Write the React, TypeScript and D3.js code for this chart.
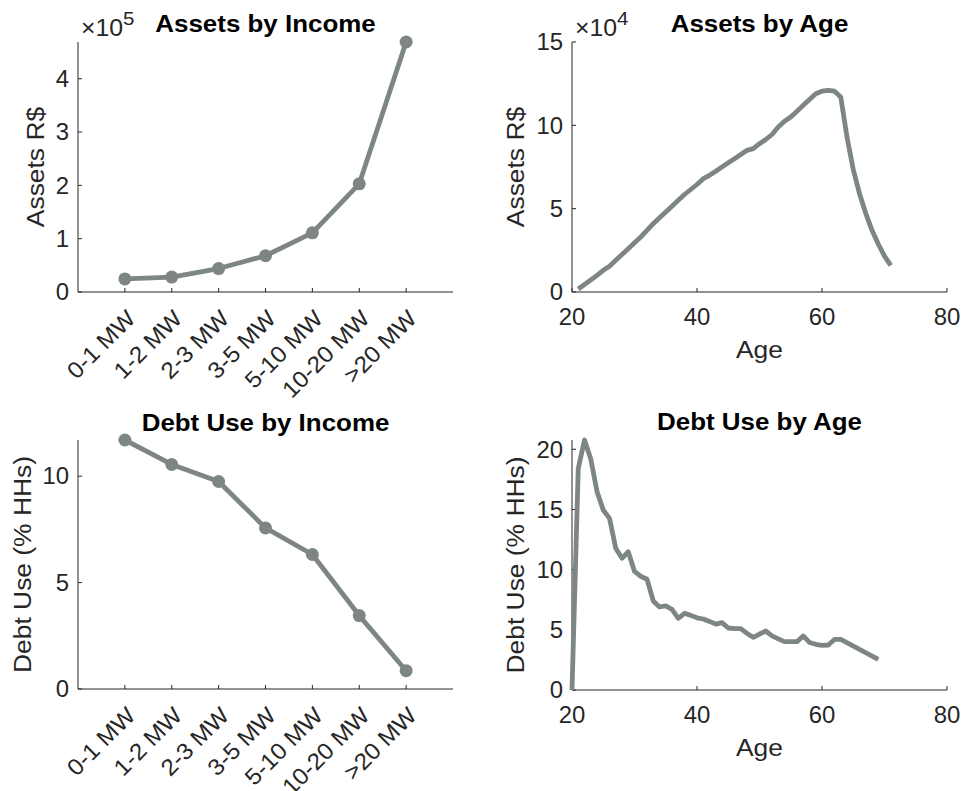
import { useEffect, useRef } from "react";
import * as d3 from "d3";

// income brackets (multiples of minimum wage)
const incomeGroups = ["0-1 MW", "1-2 MW", "2-3 MW", "3-5 MW", "5-10 MW", "10-20 MW", ">20 MW"];
const incomePos = [1, 2, 3, 4, 5, 6, 7];
const assetsByIncome = [24500, 28000, 44000, 68000, 111000, 203000, 469000];
const debtByIncome = [11.7, 10.55, 9.75, 7.57, 6.32, 3.45, 0.86];

const assetAges = [
  21, 22, 23, 24, 25, 26, 27, 28, 29, 30, 31, 32, 33, 34, 35, 36, 37, 38, 39, 40,
  41, 42, 43, 44, 45, 46, 47, 48, 49, 50, 51, 52, 53, 54, 55, 56, 57, 58, 59, 60,
  61, 62, 63, 64, 65, 66, 67, 68, 69, 70, 71,
];
const assetsByAge = [
  1800, 4500, 7200, 10000, 13000, 15500, 19000, 22500, 26000, 29500, 33000, 37000, 41000, 44500, 48000, 51500, 55000, 58500, 61500, 64500,
  68000, 70000, 72500, 75000, 77500, 80000, 82500, 85000, 86000, 89000, 91500, 94500, 99000, 102500, 105000, 108500, 112000, 115500, 119000, 120500,
  121000, 120500, 117000, 93000, 73500, 59000, 47200, 37000, 28800, 21500, 16000,
];

const debtAges = [
  20, 21, 22, 23, 24, 25, 26, 27, 28, 29, 30, 31, 32, 33, 34, 35, 36, 37, 38, 39,
  40, 41, 42, 43, 44, 45, 46, 47, 48, 49, 50, 51, 52, 53, 54, 55, 56, 57, 58, 59,
  60, 61, 62, 63, 69,
];
const debtByAge = [
  0, 18.4, 20.77, 19.2, 16.5, 14.95, 14.26, 11.77, 10.94, 11.49, 9.85, 9.45, 9.2, 7.4, 6.9, 6.98, 6.7, 5.96, 6.37, 6.2,
  6.0, 5.9, 5.7, 5.48, 5.6, 5.15, 5.1, 5.1, 4.7, 4.38, 4.65, 4.9, 4.5, 4.25, 4.02, 4.02, 4.02, 4.49, 3.95, 3.8,
  3.71, 3.74, 4.2, 4.2, 2.55,
];

const ageTicks = [20, 40, 60, 80];

const FONT = "'Liberation Sans', Arial, Helvetica, sans-serif";
const INK = "#262626";
const LINE = "#7e8683";

interface PanelProps {
  left: number;
  top: number;
  width: number;
  height: number;
  title: string;
  titleY: number;
  yLabel: string;
  yLabelGap: number;
  xLabel?: string;
  xs: number[];
  ys: number[];
  xDomain: [number, number];
  xTicks: number[];
  xTickLabels?: string[];
  yDomain: [number, number];
  yTicks: number[];
  yScaleDiv?: number;
  exponent?: string;
  markers?: boolean;
}

function Panel(p: PanelProps) {
  const ref = useRef<SVGGElement | null>(null);

  useEffect(() => {
    const el = ref.current;
    if (!el) return;
    const g = d3.select(el);
    g.selectAll("*").remove();
    g.attr("transform", `translate(${p.left},${p.top})`).style("font-family", FONT);

    const x = d3.scaleLinear().domain(p.xDomain).range([0, p.width]);
    const y = d3.scaleLinear().domain(p.yDomain).range([p.height, 0]);
    const h = p.height;

    // glyphs in the reference run a bit wider than Arial, so stretch horizontally
    const txt = (tx: number, ty: number, sx: number, rot = 0) =>
      g.append("text")
        .attr("transform", `translate(${tx},${ty})${rot ? ` rotate(${rot})` : ""} scale(${sx},1)`);

    // axis lines (box off)
    g.append("path")
      .attr("d", `M0,0V${h}H${p.width}`)
      .attr("fill", "none")
      .attr("stroke", INK)
      .attr("stroke-width", 1);

    // y ticks
    const div = p.yScaleDiv ?? 1;
    p.yTicks.forEach((t) => {
      g.append("line")
        .attr("x1", 0).attr("x2", 4)
        .attr("y1", y(t)).attr("y2", y(t))
        .attr("stroke", INK);
      txt(-9, y(t), 1.04)
        .attr("text-anchor", "end")
        .attr("dy", "0.36em")
        .attr("fill", INK)
        .style("font-size", "23px")
        .text(d3.format("~g")(t / div));
    });

    // x ticks
    p.xTicks.forEach((t, i) => {
      g.append("line")
        .attr("x1", x(t)).attr("x2", x(t))
        .attr("y1", h).attr("y2", h - 4)
        .attr("stroke", INK);
      if (p.xTickLabels) {
        txt(x(t) + 6, h + 22, 1.06, -45)
          .attr("text-anchor", "end")
          .attr("dy", "0.36em")
          .attr("fill", INK)
          .style("font-size", "23px")
          .text(p.xTickLabels[i]);
      } else {
        txt(x(t), h + 33, 1.04)
          .attr("text-anchor", "middle")
          .attr("fill", INK)
          .style("font-size", "23px")
          .text(String(t));
      }
    });

    // data line
    const pts = p.xs.map((v, i) => [v, p.ys[i]] as [number, number]);
    const line = d3.line<[number, number]>().x((d) => x(d[0])).y((d) => y(d[1]));
    g.append("path")
      .attr("d", line(pts) ?? "")
      .attr("fill", "none")
      .attr("stroke", LINE)
      .attr("stroke-width", 4.8)
      .attr("stroke-linejoin", "round");

    if (p.markers) {
      g.append("g")
        .selectAll("circle")
        .data(pts)
        .join("circle")
        .attr("cx", (d) => x(d[0]))
        .attr("cy", (d) => y(d[1]))
        .attr("r", 6.5)
        .attr("fill", LINE);
    }

    // title
    txt(p.width / 2, p.titleY - p.top, 1.08)
      .attr("text-anchor", "middle")
      .attr("fill", "#000")
      .style("font-size", "24px")
      .style("font-weight", "bold")
      .text(p.title);

    // y label
    txt(-p.yLabelGap, h / 2, 1.1, -90)
      .attr("text-anchor", "middle")
      .attr("fill", INK)
      .style("font-size", "24px")
      .text(p.yLabel);

    if (p.xLabel) {
      txt(p.width / 2, h + 66, 1.1)
        .attr("text-anchor", "middle")
        .attr("fill", INK)
        .style("font-size", "24px")
        .text(p.xLabel);
    }

    if (p.exponent) {
      const e = txt(3, -6, 1.08).attr("fill", INK).style("font-size", "23px");
      e.append("tspan").text("\u00d710");
      e.append("tspan").attr("dy", -11).style("font-size", "19px").text(p.exponent);
    }
  }, [p]);

  return <g ref={ref} />;
}

export default function App() {
  return (
    <svg width={962} height={791} style={{ position: "absolute", left: 0, top: 0, background: "#fff" }}>
      <Panel
        left={78} top={42} width={375} height={250}
        title="Assets by Income" titleY={32}
        yLabel="Assets R$" yLabelGap={34}
        xs={incomePos} ys={assetsByIncome}
        xDomain={[0, 8]} xTicks={incomePos} xTickLabels={incomeGroups}
        yDomain={[0, d3.max(assetsByIncome) ?? 1]} yTicks={[0, 100000, 200000, 300000, 400000]}
        yScaleDiv={100000} exponent="5" markers
      />
      <Panel
        left={572} top={42} width={375} height={250}
        title="Assets by Age" titleY={32}
        yLabel="Assets R$" yLabelGap={48} xLabel="Age"
        xs={assetAges} ys={assetsByAge}
        xDomain={[20, 80]} xTicks={ageTicks}
        yDomain={[0, 150000]} yTicks={[0, 50000, 100000, 150000]}
        yScaleDiv={10000} exponent="4"
      />
      <Panel
        left={78} top={440} width={375} height={249}
        title="Debt Use by Income" titleY={431}
        yLabel="Debt Use (% HHs)" yLabelGap={47}
        xs={incomePos} ys={debtByIncome}
        xDomain={[0, 8]} xTicks={incomePos} xTickLabels={incomeGroups}
        yDomain={[0, d3.max(debtByIncome) ?? 1]} yTicks={[0, 5, 10]} markers
      />
      <Panel
        left={572} top={440} width={375} height={250}
        title="Debt Use by Age" titleY={430}
        yLabel="Debt Use (% HHs)" yLabelGap={48} xLabel="Age"
        xs={debtAges} ys={debtByAge}
        xDomain={[20, 80]} xTicks={ageTicks}
        yDomain={[0, d3.max(debtByAge) ?? 1]} yTicks={[0, 5, 10, 15, 20]}
      />
    </svg>
  );
}
